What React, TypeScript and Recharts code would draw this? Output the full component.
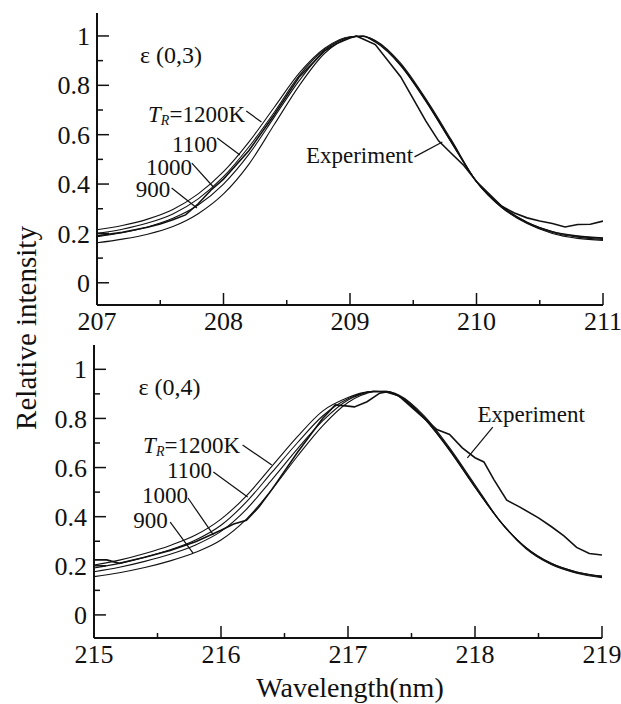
import React from "react";
import { LineChart, Line, XAxis, YAxis, ReferenceLine, ReferenceDot } from "recharts";

const FONT = "Liberation Serif, DejaVu Serif, Times New Roman, serif";
const INK = "#111";

// ε(0,3) band, simulated profiles (TR = 1200, 1100, 1000, 900 K)
const TOP_WL = [207, 207.2, 207.4, 207.6, 207.8, 208, 208.2, 208.4, 208.6, 208.8, 209, 209.1, 209.2, 209.4, 209.6, 209.8, 210, 210.2, 210.4, 210.6, 210.8, 211];
const TOP_1200 = [0.215, 0.232, 0.258, 0.297, 0.36, 0.45, 0.57, 0.71, 0.85, 0.95, 0.997, 0.998, 0.975, 0.88, 0.735, 0.57, 0.41, 0.31, 0.245, 0.208, 0.19, 0.182];
const TOP_1100 = [0.2, 0.217, 0.242, 0.279, 0.34, 0.43, 0.55, 0.69, 0.84, 0.945, 0.996, 0.999, 0.977, 0.882, 0.737, 0.57, 0.41, 0.31, 0.245, 0.207, 0.188, 0.18];
const TOP_1000 = [0.187, 0.203, 0.226, 0.261, 0.315, 0.4, 0.52, 0.67, 0.82, 0.94, 0.995, 1.0, 0.98, 0.885, 0.74, 0.575, 0.41, 0.305, 0.242, 0.204, 0.185, 0.176];
const TOP_900 = [0.162, 0.177, 0.197, 0.228, 0.28, 0.36, 0.48, 0.64, 0.8, 0.93, 0.993, 1.0, 0.982, 0.89, 0.745, 0.58, 0.41, 0.305, 0.24, 0.2, 0.18, 0.172];
// ε(0,3) measured
const TOP_EXP_WL = [207, 207.2, 207.4, 207.5, 207.6, 207.7, 207.8, 207.9, 208, 208.2, 208.4, 208.6, 208.8, 208.9, 209, 209.05, 209.2, 209.4, 209.6, 209.7, 209.8, 209.9, 210, 210.2, 210.3, 210.4, 210.5, 210.6, 210.7, 210.8, 210.9, 211];
const TOP_EXP = [0.19, 0.205, 0.225, 0.238, 0.255, 0.275, 0.32, 0.375, 0.42, 0.535, 0.68, 0.835, 0.94, 0.97, 0.992, 1.0, 0.965, 0.835, 0.655, 0.575, 0.525, 0.475, 0.41, 0.31, 0.283, 0.263, 0.25, 0.24, 0.226, 0.236, 0.237, 0.25];

// ε(0,4) band, simulated
const BOT_WL = [215, 215.2, 215.4, 215.6, 215.8, 216, 216.2, 216.4, 216.6, 216.8, 217, 217.1, 217.2, 217.3, 217.4, 217.6, 217.8, 218, 218.2, 218.4, 218.6, 218.8, 219];
const BOT_1200 = [0.203, 0.223, 0.25, 0.283, 0.325, 0.39, 0.485, 0.605, 0.725, 0.83, 0.885, 0.903, 0.91, 0.908, 0.89, 0.8, 0.67, 0.52, 0.38, 0.275, 0.21, 0.175, 0.158];
const BOT_1100 = [0.191, 0.21, 0.235, 0.265, 0.305, 0.365, 0.46, 0.58, 0.7, 0.81, 0.88, 0.9, 0.91, 0.909, 0.89, 0.8, 0.67, 0.52, 0.38, 0.275, 0.21, 0.175, 0.157];
const BOT_1000 = [0.176, 0.194, 0.218, 0.247, 0.285, 0.34, 0.43, 0.55, 0.675, 0.79, 0.875, 0.898, 0.91, 0.91, 0.893, 0.805, 0.675, 0.525, 0.38, 0.272, 0.207, 0.172, 0.155];
const BOT_900 = [0.156, 0.172, 0.193, 0.22, 0.255, 0.305, 0.39, 0.51, 0.645, 0.77, 0.865, 0.893, 0.908, 0.91, 0.895, 0.81, 0.68, 0.53, 0.38, 0.27, 0.205, 0.17, 0.152];
// ε(0,4) measured
const BOT_EXP_WL = [215, 215.1, 215.2, 215.4, 215.6, 215.8, 216, 216.1, 216.2, 216.3, 216.4, 216.6, 216.8, 216.9, 217, 217.05, 217.15, 217.25, 217.3, 217.4, 217.6, 217.7, 217.8, 217.9, 218, 218.07, 218.15, 218.25, 218.35, 218.5, 218.6, 218.7, 218.8, 218.9, 219];
const BOT_EXP = [0.224, 0.224, 0.21, 0.235, 0.262, 0.298, 0.345, 0.37, 0.385, 0.44, 0.51, 0.66, 0.8, 0.855, 0.85, 0.847, 0.868, 0.903, 0.908, 0.892, 0.8, 0.755, 0.735, 0.68, 0.64, 0.623, 0.55, 0.467, 0.44, 0.395, 0.36, 0.322, 0.275, 0.25, 0.244];

const Y_TICKS = [0, 0.1, 0.2, 0.3, 0.4, 0.5, 0.6, 0.7, 0.8, 0.9, 1];
const TOP_X_TICKS = [207, 207.5, 208, 208.5, 209, 209.5, 210, 210.5, 211];
const BOT_X_TICKS = [215, 215.5, 216, 216.5, 217, 217.5, 218, 218.5, 219];

const majorX = (v: number) => Math.abs(v - Math.round(v)) < 1e-6;
const majorY = (v: number) => Math.round(v * 10) % 2 === 0;

const textStyle = { fontFamily: FONT };

function BottomTick({ x, y, payload }: any) {
  const v = payload.value;
  const m = majorX(v);
  return (
    <g>
      <line x1={x} x2={x} y1={y} y2={y - (m ? 12 : 5)} stroke={INK} strokeWidth={1.5} />
      {m && <text x={x} y={y + 25} textAnchor="middle" style={textStyle} fontSize={26} fill={INK}>{v}</text>}
    </g>
  );
}
function TopTick({ x, y, payload }: any) {
  const m = majorX(payload.value);
  return <line x1={x} x2={x} y1={y} y2={y + (m ? 12 : 5)} stroke={INK} strokeWidth={1.5} />;
}
function LeftTick({ x, y, payload }: any) {
  const v = payload.value;
  const m = majorY(v);
  return (
    <g>
      <line x1={x} x2={x + (m ? 12 : 6)} y1={y} y2={y} stroke={INK} strokeWidth={1.5} />
      {m && <text x={x - 7} y={y} dy="0.35em" textAnchor="end" style={textStyle} fontSize={26} fill={INK}>{v}</text>}
    </g>
  );
}
function RightTick({ x, y, payload }: any) {
  const m = majorY(payload.value);
  return <line x1={x} x2={x - (m ? 10 : 7)} y1={y} y2={y} stroke={INK} strokeWidth={1.5} />;
}

const txt = (s: string, anchor: string, size = 22) => (p: any) => (
  <text x={p.cx} y={p.cy} textAnchor={anchor} style={textStyle} fontSize={size} fill={INK}>{s}</text>
);
const trLabel = (p: any) => (
  <text x={p.cx} y={p.cy} textAnchor="end" style={textStyle} fontSize={23} fill={INK}>
    <tspan fontStyle="italic">T</tspan>
    <tspan fontStyle="italic" fontSize={14} dy={3}>R</tspan>
    <tspan dy={-3}>=1200K</tspan>
  </text>
);

type Ann = { band: string; at: number[]; tr: number[]; l1100: number[]; l1000: number[]; l900: number[]; exp: number[]; expAnchor: string; leaders: number[][] };

function Panel({ wl, s1200, s1100, s1000, s900, expWl, exp, xTicks, domainX, domainY, width, height, margin, yWidth, ann }: any) {
  const theory = wl.map((x: number, i: number) => ({ x, a: s1200[i], b: s1100[i], c: s1000[i], d: s900[i] }));
  const measured = expWl.map((x: number, i: number) => ({ x, e: exp[i] }));
  const a: Ann = ann;
  return (
    <LineChart width={width} height={height} margin={margin}>
      <XAxis dataKey="x" type="number" domain={domainX} ticks={xTicks} interval={0} allowDataOverflow
        height={margin.bottomAxis} tickSize={0} tickMargin={0} tickLine={false}
        axisLine={{ stroke: INK, strokeWidth: 2 }} tick={<BottomTick />} />
      <XAxis xAxisId="top" orientation="top" dataKey="x" type="number" domain={domainX} ticks={xTicks} interval={0}
        allowDataOverflow height={0} tickSize={0} tickMargin={0} tickLine={false}
        axisLine={{ stroke: INK, strokeWidth: 2 }} tick={<TopTick />} />
      <YAxis type="number" domain={domainY} ticks={Y_TICKS} interval={0} allowDataOverflow width={yWidth}
        tickSize={0} tickMargin={0} tickLine={false} axisLine={{ stroke: INK, strokeWidth: 2 }} tick={<LeftTick />} />
      <YAxis yAxisId="right" orientation="right" type="number" domain={domainY} ticks={Y_TICKS} interval={0}
        allowDataOverflow width={0} tickSize={0} tickMargin={0} tickLine={false}
        axisLine={{ stroke: INK, strokeWidth: 2 }} tick={<RightTick />} />
      <Line data={theory} dataKey="a" type="monotone" stroke={INK} strokeWidth={1.1} dot={false} isAnimationActive={false} />
      <Line data={theory} dataKey="b" type="monotone" stroke={INK} strokeWidth={1.1} dot={false} isAnimationActive={false} />
      <Line data={theory} dataKey="c" type="monotone" stroke={INK} strokeWidth={1.1} dot={false} isAnimationActive={false} />
      <Line data={theory} dataKey="d" type="monotone" stroke={INK} strokeWidth={1.1} dot={false} isAnimationActive={false} />
      <Line data={measured} dataKey="e" type="linear" stroke={INK} strokeWidth={1.6} dot={false} isAnimationActive={false} />
      {a.leaders.map((l, i) => (
        <ReferenceLine key={i} segment={[{ x: l[0], y: l[1] }, { x: l[2], y: l[3] }]} stroke={INK} strokeWidth={1.2} />
      ))}
      <ReferenceDot x={a.at[0]} y={a.at[1]} r={0} shape={txt(a.band, "start", 24)} />
      <ReferenceDot x={a.tr[0]} y={a.tr[1]} r={0} shape={trLabel} />
      <ReferenceDot x={a.l1100[0]} y={a.l1100[1]} r={0} shape={txt("1100", "end", 23)} />
      <ReferenceDot x={a.l1000[0]} y={a.l1000[1]} r={0} shape={txt("1000", "end", 23)} />
      <ReferenceDot x={a.l900[0]} y={a.l900[1]} r={0} shape={txt("900", "end", 23)} />
      <ReferenceDot x={a.exp[0]} y={a.exp[1]} r={0} shape={txt("Experiment", a.expAnchor, 23)} />
    </LineChart>
  );
}

const TOP_ANN: Ann = {
  band: "ε (0,3)", at: [207.34, 0.891], tr: [208.17, 0.651], l1100: [207.95, 0.53], l1000: [207.75, 0.437],
  l900: [207.58, 0.347], exp: [209.5, 0.485], expAnchor: "end",
  leaders: [
    [208.18, 0.696, 208.3, 0.651],
    [207.95, 0.587, 208.13, 0.518],
    [207.75, 0.485, 207.92, 0.388],
    [207.59, 0.384, 207.79, 0.303],
    [209.51, 0.51, 209.73, 0.57],
  ],
};
const BOT_ANN: Ann = {
  band: "ε (0,4)", at: [215.35, 0.895], tr: [216.15, 0.659], l1100: [215.93, 0.558], l1000: [215.74, 0.456],
  l900: [215.58, 0.354], exp: [218.02, 0.786], expAnchor: "start",
  leaders: [
    [216.17, 0.692, 216.4, 0.61],
    [215.94, 0.582, 216.21, 0.48],
    [215.74, 0.476, 215.94, 0.326],
    [215.6, 0.378, 215.78, 0.252],
    [218.14, 0.765, 217.94, 0.639],
  ],
};

export default function App() {
  return (
    <div style={{ position: "absolute", left: 0, top: 0, width: 621, height: 704, background: "#fff" }}>
      <div style={{ position: "absolute", left: 0, top: 0 }}>
        <Panel wl={TOP_WL} s1200={TOP_1200} s1100={TOP_1100} s1000={TOP_1000} s900={TOP_900}
          expWl={TOP_EXP_WL} exp={TOP_EXP} xTicks={TOP_X_TICKS} domainX={[207, 211]} domainY={[-0.09, 1.093]}
          width={621} height={340} yWidth={97} margin={{ top: 13, right: 18, left: 0, bottom: 0, bottomAxis: 35 }} ann={TOP_ANN} />
      </div>
      <div style={{ position: "absolute", left: 0, top: 340 }}>
        <Panel wl={BOT_WL} s1200={BOT_1200} s1100={BOT_1100} s1000={BOT_1000} s900={BOT_900}
          expWl={BOT_EXP_WL} exp={BOT_EXP} xTicks={BOT_X_TICKS} domainX={[215, 219]} domainY={[-0.094, 1.099]}
          width={621} height={364} yWidth={94} margin={{ top: 5, right: 19, left: 0, bottom: 0, bottomAxis: 66 }} ann={BOT_ANN} />
      </div>
      <svg width={621} height={704} style={{ position: "absolute", left: 0, top: 0, pointerEvents: "none" }}>
        <text x={36} y={328} transform="rotate(-90 36 328)" textAnchor="middle" style={textStyle} fontSize={29} fill={INK}>
          Relative intensity
        </text>
        <text x={350} y={697} textAnchor="middle" style={textStyle} fontSize={28} fill={INK}>
          Wavelength(nm)
        </text>
      </svg>
    </div>
  );
}
